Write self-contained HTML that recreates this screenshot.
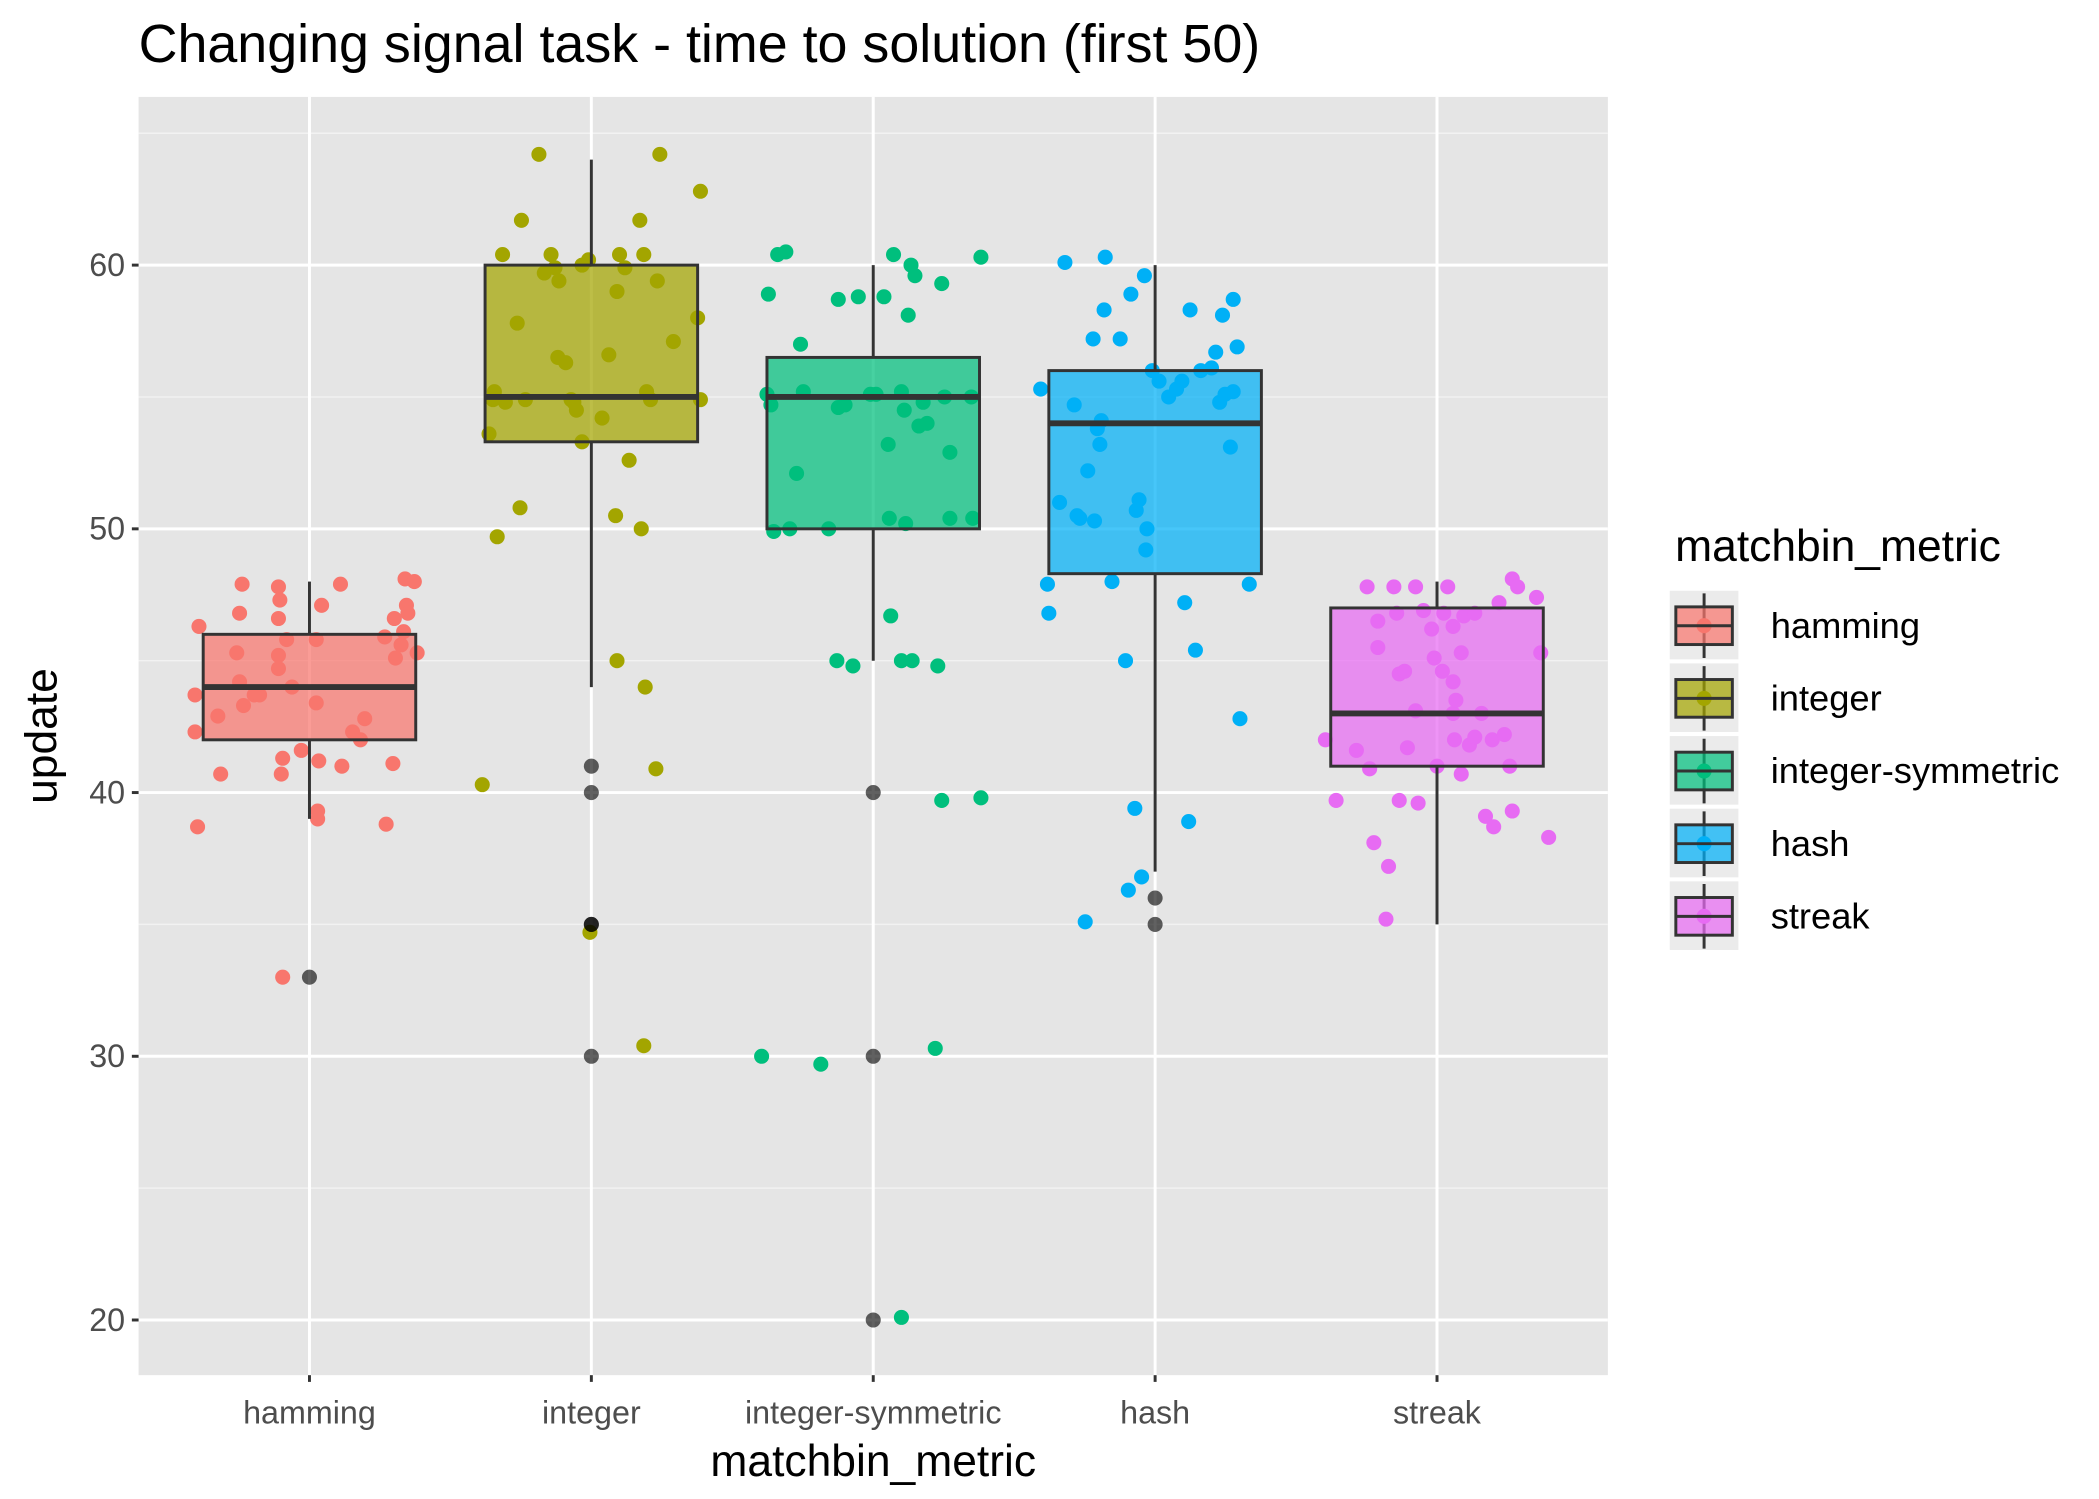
<!DOCTYPE html>
<html><head><meta charset="utf-8"><style>
html,body{margin:0;padding:0;background:#fff}
svg{display:block;font-family:"Liberation Sans",sans-serif}
</style></head><body>
<svg id="chart" width="2099" height="1499" viewBox="0 0 1560 1114" xmlns="http://www.w3.org/2000/svg">
<rect width="1560" height="1114" fill="#fff"/>
<text x="103" y="46" font-size="40" fill="#000">Changing signal task - time to solution (first 50)</text>
<rect x="103" y="72" width="1092" height="950" fill="#e5e5e5"/>
<g id="grid"></g>
<g id="points"></g>
<g id="boxes"></g>
<g id="axes"></g>
<text transform="translate(42,547) rotate(-90)" text-anchor="middle" font-size="33" fill="#000">update</text>
<text x="649" y="1097" text-anchor="middle" font-size="33" fill="#000">matchbin_metric</text>
<text x="1245" y="417" font-size="33" fill="#000">matchbin_metric</text>
<g id="legend"></g>
</svg>
<script>
const categories = ["hamming","integer","integer-symmetric","hash","streak"];
const colors = ["#F8766D","#A3A500","#00BF7D","#00B0F6","#E76BF3"];
const yTicks = [20,30,40,50,60];
const yMinor = [25,35,45,55,65];
// box stats: [lowerWhisker, q1, median, q3, upperWhisker]
const boxStats = [
  [39,42,44,46,48],
  [44,53.3,55,60,64],
  [45,50,55,56.5,60],
  [37,48.3,54,56,60],
  [35,41,43,47,48]
];
const outliers = [[33],[41,40,35,35,30],[40,30,20],[36,35],[]];
// jittered points: [jitter (category units), value]
const ptsHamming = [[-0.397,38.7],[-0.406,42.3],[-0.406,43.7],[-0.392,46.3],[-0.325,42.9],[-0.315,40.7],[-0.239,47.9],[-0.248,46.8],[-0.258,45.3],[-0.248,44.2],[-0.234,43.3],[-0.196,43.7],[-0.177,43.7],[-0.110,47.8],[-0.105,47.3],[-0.110,46.6],[-0.110,45.2],[-0.110,44.7],[-0.095,41.3],[-0.100,40.7],[-0.081,45.8],[-0.062,44.0],[-0.029,41.6],[0.024,45.8],[0.024,43.4],[0.033,41.2],[0.043,47.1],[0.029,39.3],[0.029,39.0],[0.110,47.9],[0.115,41.0],[0.153,42.3],[0.181,42.0],[0.196,42.8],[0.267,45.9],[0.296,41.1],[0.301,46.6],[0.305,45.1],[0.339,48.1],[0.344,47.1],[0.349,46.8],[0.372,48.0],[0.382,45.3],[0.272,38.8],[-0.095,33.0],[0.334,46.1],[0.325,45.6]];
const ptsInteger = [[-0.363,53.6],[-0.344,55.2],[-0.334,49.7],[-0.315,60.4],[-0.263,57.8],[-0.253,50.8],[-0.248,61.7],[-0.234,54.9],[-0.186,64.2],[-0.167,59.7],[-0.143,60.4],[-0.129,59.9],[-0.115,59.4],[-0.091,56.3],[-0.072,54.9],[-0.062,54.8],[-0.053,54.5],[-0.033,53.3],[-0.033,60.0],[-0.010,60.2],[0.038,54.2],[0.062,56.6],[0.086,50.5],[0.091,59.0],[0.100,60.4],[0.119,59.9],[0.134,52.6],[0.177,50.0],[0.172,61.7],[0.186,60.4],[0.196,55.2],[0.210,54.9],[0.234,59.4],[0.243,64.2],[0.291,57.1],[0.377,58.0],[0.387,54.9],[0.387,62.8],[0.091,45.0],[0.191,44.0],[0.229,40.9],[-0.387,40.3],[-0.005,34.7],[0.186,30.4],[-0.349,54.9],[-0.305,54.8],[-0.119,56.5]];
const ptsIntSym = [[-0.372,58.9],[-0.339,60.4],[-0.310,60.5],[-0.353,49.9],[-0.296,50.0],[-0.377,55.1],[-0.363,54.7],[-0.272,52.1],[-0.258,57.0],[-0.248,55.2],[-0.158,50.0],[-0.124,58.7],[-0.124,54.6],[-0.100,54.7],[-0.053,58.8],[-0.010,55.1],[0.038,58.8],[0.053,53.2],[0.057,50.4],[0.072,60.4],[0.100,55.2],[0.110,54.5],[0.115,50.2],[0.124,58.1],[0.134,60.0],[0.148,59.6],[0.162,53.9],[0.177,54.8],[0.191,54.0],[0.243,59.3],[0.253,55.0],[0.272,52.9],[0.272,50.4],[0.348,55.0],[0.353,50.4],[0.382,60.3],[-0.129,45.0],[-0.072,44.8],[0.062,46.7],[0.100,45.0],[0.138,45.0],[0.229,44.8],[0.243,39.7],[0.382,39.8],[-0.396,30.0],[-0.186,29.7],[0.220,30.3],[0.100,20.1],[0.010,55.1]];
const ptsHash = [[-0.406,55.3],[-0.382,47.9],[-0.377,46.8],[-0.339,51.0],[-0.320,60.1],[-0.287,54.7],[-0.277,50.5],[-0.267,50.4],[-0.248,35.1],[-0.239,52.2],[-0.220,57.2],[-0.215,50.3],[-0.205,53.8],[-0.196,53.2],[-0.191,54.1],[-0.181,58.3],[-0.177,60.3],[-0.153,48.0],[-0.124,57.2],[-0.105,45.0],[-0.095,36.3],[-0.086,58.9],[-0.072,39.4],[-0.067,50.7],[-0.057,51.1],[-0.048,36.8],[-0.038,59.6],[-0.033,49.2],[-0.029,50.0],[-0.010,56.0],[0.014,55.6],[0.048,55.0],[0.076,55.3],[0.095,55.6],[0.105,47.2],[0.119,38.9],[0.124,58.3],[0.143,45.4],[0.162,56.0],[0.200,56.1],[0.215,56.7],[0.229,54.8],[0.239,58.1],[0.248,55.1],[0.277,58.7],[0.277,55.2],[0.291,56.9],[0.301,42.8],[0.267,53.1],[0.334,47.9]];
const ptsStreak = [[-0.396,42.0],[-0.358,39.7],[-0.286,41.6],[-0.248,47.8],[-0.239,40.9],[-0.224,38.1],[-0.210,45.5],[-0.210,46.5],[-0.181,35.2],[-0.172,37.2],[-0.153,47.8],[-0.143,46.8],[-0.134,44.5],[-0.134,39.7],[-0.115,44.6],[-0.105,41.7],[-0.076,47.8],[-0.076,43.1],[-0.067,39.6],[-0.048,46.9],[-0.019,46.2],[-0.010,45.1],[0.000,41.0],[0.019,44.6],[0.024,46.8],[0.038,47.8],[0.057,46.3],[0.057,43.0],[0.062,42.0],[0.067,43.5],[0.086,40.7],[0.086,45.3],[0.095,46.7],[0.115,41.8],[0.134,46.8],[0.158,43.0],[0.172,39.1],[0.196,42.0],[0.201,38.7],[0.220,47.2],[0.239,42.2],[0.258,41.0],[0.267,48.1],[0.267,39.3],[0.286,47.8],[0.353,47.4],[0.368,45.3],[0.396,38.3],[0.057,44.2],[0.134,42.1]];
const points = [ptsHamming, ptsInteger, ptsIntSym, ptsHash, ptsStreak];

const NS = "http://www.w3.org/2000/svg";
const P = {x0:103, x1:1195, y0:72, y1:1022};
const y = v => 981 - (v-20)*19.6;
const band = 209.5;
const x = i => 230 + i*band;
function mk(tag, attrs, parent){const e=document.createElementNS(NS,tag);for(const k in attrs)e.setAttribute(k,attrs[k]);parent.appendChild(e);return e;}

const grid=document.getElementById('grid');
yMinor.forEach(v=>{const l=mk('line',{x1:P.x0,x2:P.x1,y1:y(v),y2:y(v),stroke:'#f2f2f2','stroke-width':1.1},grid);

});
yTicks.forEach(v=>{const l=mk('line',{x1:P.x0,x2:P.x1,y1:y(v),y2:y(v),stroke:'#fff','stroke-width':2.2},grid);

});
categories.forEach((c,i)=>{const l=mk('line',{x1:x(i),x2:x(i),y1:P.y0,y2:P.y1,stroke:'#fff','stroke-width':2.2},grid);

});

const pg=document.getElementById('points');
points.forEach((arr,i)=>arr.forEach(p=>{const c=mk('circle',{cx:x(i)+p[0]*band,cy:y(p[1]),r:5.6,fill:colors[i]},pg);

}));

const bg=document.getElementById('boxes');
const hw=0.377*band;
boxStats.forEach((s,i)=>{
  const g=mk('g',{},bg);
  
  
  mk('line',{x1:x(i),x2:x(i),y1:y(s[0]),y2:y(s[1]),stroke:'#333','stroke-width':2.2},g);
  mk('line',{x1:x(i),x2:x(i),y1:y(s[3]),y2:y(s[4]),stroke:'#333','stroke-width':2.2},g);
  mk('rect',{x:x(i)-hw,y:y(s[3]),width:2*hw,height:y(s[1])-y(s[3]),fill:colors[i],'fill-opacity':0.72,stroke:'#333','stroke-width':2.2},g);
  mk('line',{x1:x(i)-hw,x2:x(i)+hw,y1:y(s[2]),y2:y(s[2]),stroke:'#333','stroke-width':4.4},g);
  outliers[i].forEach(v=>{const o=mk('circle',{cx:x(i),cy:y(v),r:5.6,fill:'#000','fill-opacity':0.62},g);
  
  });
});

const ax=document.getElementById('axes');
yTicks.forEach(v=>{
  mk('line',{x1:P.x0-5,x2:P.x0,y1:y(v),y2:y(v),stroke:'#333','stroke-width':2.2},ax);
  const t=mk('text',{x:P.x0-10,y:y(v)+8,'text-anchor':'end','font-size':24,fill:'#4d4d4d'},ax);
  t.textContent=v;
  
  
});
categories.forEach((c,i)=>{
  mk('line',{x1:x(i),x2:x(i),y1:P.y1,y2:P.y1+5,stroke:'#333','stroke-width':2.2},ax);
  const t=mk('text',{x:x(i),y:1058,'text-anchor':'middle','font-size':24,fill:'#4d4d4d'},ax);
  t.textContent=c;
  
  
});

const lg=document.getElementById('legend');
categories.forEach((c,i)=>{
  const cy=465+i*54;
  const g=mk('g',{},lg);
  
  
  mk('rect',{x:1241,y:cy-26,width:51,height:51,fill:'#ebebeb'},g);
  mk('line',{x1:1266.5,x2:1266.5,y1:cy-24,y2:cy+24,stroke:'#333','stroke-width':2.2},g);
  mk('circle',{cx:1266.5,cy:cy,r:5.6,fill:colors[i]},g);
  mk('rect',{x:1245.5,y:cy-14,width:42,height:28,fill:colors[i],'fill-opacity':0.72,stroke:'#333','stroke-width':2.2},g);
  mk('line',{x1:1245.5,x2:1287.5,y1:cy,y2:cy,stroke:'#333','stroke-width':2.2},g);
  const t=mk('text',{x:1316,y:cy+9,'font-size':27,fill:'#000'},g);
  t.textContent=c;
});
</script>
</body></html>
